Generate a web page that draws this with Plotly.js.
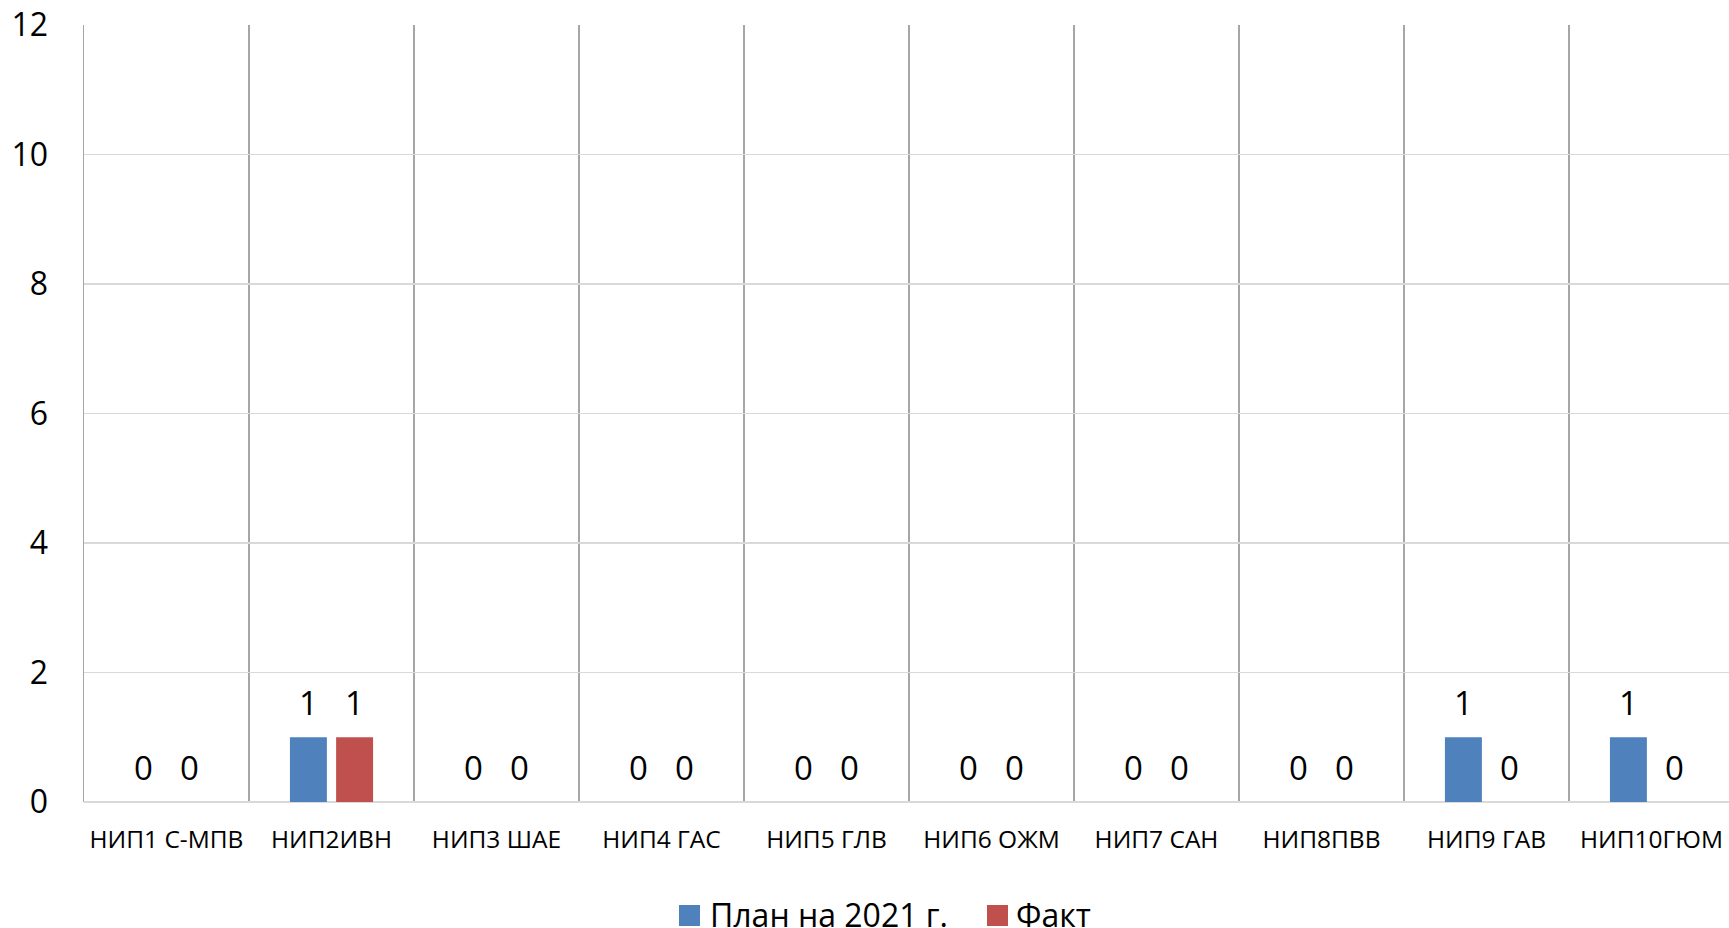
<!DOCTYPE html>
<html>
<head>
<meta charset="utf-8">
<script src="https://cdn.plot.ly/plotly-3.0.1.min.js"></script>
<style>
html,body{margin:0;padding:0;overflow:hidden;background:#fff;}
#chart{width:1736px;height:928px;}
</style>
</head>
<body>
<div id="chart"></div>
<script>
const categories = ["НИП1 С-МПВ","НИП2ИВН","НИП3 ШАЕ","НИП4 ГАС","НИП5 ГЛВ","НИП6 ОЖМ","НИП7 САН","НИП8ПВВ","НИП9 ГАВ","НИП10ГЮМ"];
const planValues = [0,1,0,0,0,0,0,0,1,1];
const factValues = [0,1,0,0,0,0,0,0,0,0];
const seriesNames = ["План на 2021 г.","Факт"];
const yTicks = [0,2,4,6,8,10,12];

const FONT = "Open Sans, Liberation Sans, sans-serif";
const BLUE = "#4F81BD", RED = "#C0504D";
const BARGAP = 0.44, GROUPGAP = 0.2;
const series = [planValues, factValues];
const colors = [BLUE, RED];

const data = series.map((vals, s) => ({
  type:"bar", x:categories, y:vals, name:seriesNames[s], showlegend:false,
  marker:{color:colors[s]}, hoverinfo:"x+y"
}));

// data labels (values drawn from the series arrays, placed on the bar slots)
const slot = (1 - BARGAP) / series.length;
const annotations = [];
series.forEach((vals, s) => {
  const off = (s - (series.length - 1) / 2) * slot;
  vals.forEach((v, i) => {
    annotations.push({
      xref:"x", yref:"y", x:i + off, y:v, text:String(v), showarrow:false,
      xanchor:"center", yanchor:"middle", yshift:35,
      font:{family:FONT, size:33, color:"#000"}
    });
  });
});

// custom legend
const PX_L = 84, PW = 1650, PT = 25, PH = 777;
const px2x = p => (p - PX_L) / PW;
const py2y = p => (PT + PH - p) / PH;
const legendItems = [
  {sq:679, tx:708},
  {sq:987, tx:1014}
];
const shapes = [];
legendItems.forEach((it, s) => {
  shapes.push({type:"rect", xref:"paper", yref:"paper",
    x0:px2x(it.sq), x1:px2x(it.sq + 21), y0:py2y(926), y1:py2y(905),
    fillcolor:colors[s], line:{width:0}});
  annotations.push({xref:"paper", yref:"paper", x:px2x(it.tx), y:py2y(914),
    xanchor:"left", yanchor:"middle", showarrow:false, text:seriesNames[s],
    font:{family:FONT, size:32, color:"#000"}});
});

const layout = {
  width:1736, height:928,
  margin:{l:PX_L, r:2, t:PT, b:928 - PT - PH},
  paper_bgcolor:"#fff", plot_bgcolor:"#fff",
  barmode:"group", bargap:BARGAP, bargroupgap:GROUPGAP,
  font:{family:FONT, color:"#000"},
  showlegend:false,
  xaxis:{
    type:"category", tickson:"boundaries", showgrid:true,
    gridcolor:"#a6a6a6", gridwidth:1.5, ticks:"", showline:false,
    tickangle:0,
    tickfont:{family:FONT, size:24.5, color:"#000"}, ticklabelstandoff:20,
    fixedrange:true
  },
  yaxis:{
    range:[0,12], tickvals:yTicks, ticktext:yTicks.map(String),
    showgrid:true, gridcolor:"#d9d9d9", gridwidth:1.5,
    zeroline:true, zerolinecolor:"#d9d9d9", zerolinewidth:2,
    showline:true, linecolor:"#a6a6a6", linewidth:1.5,
    tickfont:{family:FONT, size:32, color:"#000"}, ticklabelstandoff:28,
    fixedrange:true
  },
  annotations:annotations,
  shapes:shapes
};

Plotly.newPlot("chart", data, layout, {displayModeBar:false, staticPlot:true});
</script>
</body>
</html>
